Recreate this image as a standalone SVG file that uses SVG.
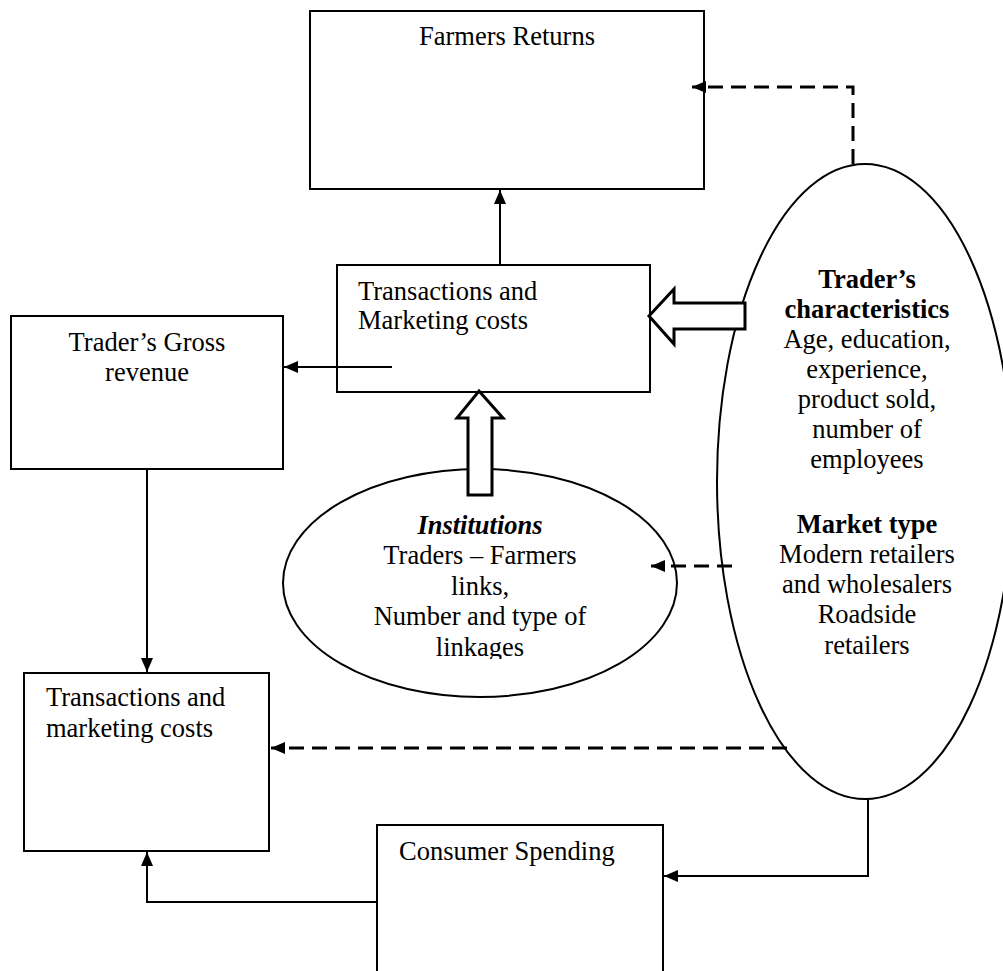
<svg xmlns="http://www.w3.org/2000/svg" width="1003" height="971" viewBox="0 0 1003 971">
<style>
.box{fill:#fff;stroke:#000;stroke-width:2}
.ell{fill:none;stroke:#000;stroke-width:2}
.t{font-family:"Liberation Serif","Times New Roman",serif;font-size:26.5px;fill:#000}
.c{text-anchor:middle}
.b{font-weight:bold}
.bi{font-weight:bold;font-style:italic}
.ln{fill:none;stroke:#000;stroke-width:2}
.dash{fill:none;stroke:#000;stroke-width:3;stroke-dasharray:15 8}
.blk{fill:#fff;stroke:#000;stroke-width:3;stroke-linejoin:miter}
</style>
<defs>
<marker id="ah" markerUnits="userSpaceOnUse" markerWidth="14" markerHeight="12" refX="14" refY="6" orient="auto">
<path d="M0,0 L14,6 L0,12 z" fill="#000"/>
</marker>
<clipPath id="instClip"><rect x="280" y="460" width="400" height="199"/></clipPath>
</defs>
<rect width="1003" height="971" fill="#fff"/>

<g id="farmers-returns">
<rect class="box" x="310" y="11" width="394" height="178"/>
<text class="t c" x="507" y="45">Farmers Returns</text>
</g>

<g id="transactions-marketing-costs">
<rect class="box" x="337" y="265" width="313" height="127"/>
<text class="t" x="358" y="300">Transactions and</text>
<text class="t" x="358" y="329">Marketing costs</text>
</g>

<g id="traders-gross-revenue">
<rect class="box" x="11" y="316" width="272" height="153"/>
<text class="t c" x="147" y="351">Trader’s Gross</text>
<text class="t c" x="147" y="381">revenue</text>
</g>

<g id="transactions-marketing-costs-2">
<rect class="box" x="24" y="673" width="245" height="178"/>
<text class="t" x="46" y="706">Transactions and</text>
<text class="t" x="46" y="737">marketing costs</text>
</g>

<g id="consumer-spending">
<rect class="box" x="377" y="825" width="286" height="160"/>
<text class="t" x="399" y="860">Consumer Spending</text>
</g>

<g id="institutions">
<ellipse class="ell" cx="480" cy="583" rx="197" ry="114"/>
<g clip-path="url(#instClip)">
<text class="t c bi" x="480" y="534">Institutions</text>
<text class="t c" x="480" y="564">Traders – Farmers</text>
<text class="t c" x="480" y="595">links,</text>
<text class="t c" x="480" y="625">Number and type of</text>
<text class="t c" x="480" y="656">linkages</text>
</g>
</g>

<g id="traders-characteristics">
<ellipse class="ell" cx="865" cy="481.5" rx="148" ry="317.5"/>
<text class="t c b" x="867" y="288">Trader’s</text>
<text class="t c b" x="867" y="318">characteristics</text>
<text class="t c" x="867" y="348">Age, education,</text>
<text class="t c" x="867" y="378">experience,</text>
<text class="t c" x="867" y="408">product sold,</text>
<text class="t c" x="867" y="438">number of</text>
<text class="t c" x="867" y="468">employees</text>
<text class="t c b" x="867" y="533">Market type</text>
<text class="t c" x="867" y="563">Modern retailers</text>
<text class="t c" x="867" y="593">and wholesalers</text>
<text class="t c" x="867" y="623">Roadside</text>
<text class="t c" x="867" y="654">retailers</text>
</g>

<g id="connectors">
<line class="ln" x1="500" y1="265" x2="500" y2="190" marker-end="url(#ah)"/>
<line class="ln" x1="392" y1="367" x2="284" y2="367" marker-end="url(#ah)"/>
<line class="ln" x1="147" y1="469" x2="147" y2="672" marker-end="url(#ah)"/>
<polyline class="ln" points="377,902 147,902 147,852" marker-end="url(#ah)"/>
<polyline class="ln" points="868,799 868,876 664,876" marker-end="url(#ah)"/>
<polyline class="dash" points="853,164 853,87 692,87" marker-end="url(#ah)"/>
<line class="dash" x1="732" y1="566" x2="651" y2="566" marker-end="url(#ah)"/>
<line class="dash" x1="787" y1="748" x2="271" y2="748" marker-end="url(#ah)"/>
<polygon class="blk" points="649,316 674,289 674,303 745,303 745,329 674,329 674,344"/>
<polygon class="blk" points="479,391 503,418 492,418 492,495 468,495 468,418 457,418"/>
</g>
</svg>
